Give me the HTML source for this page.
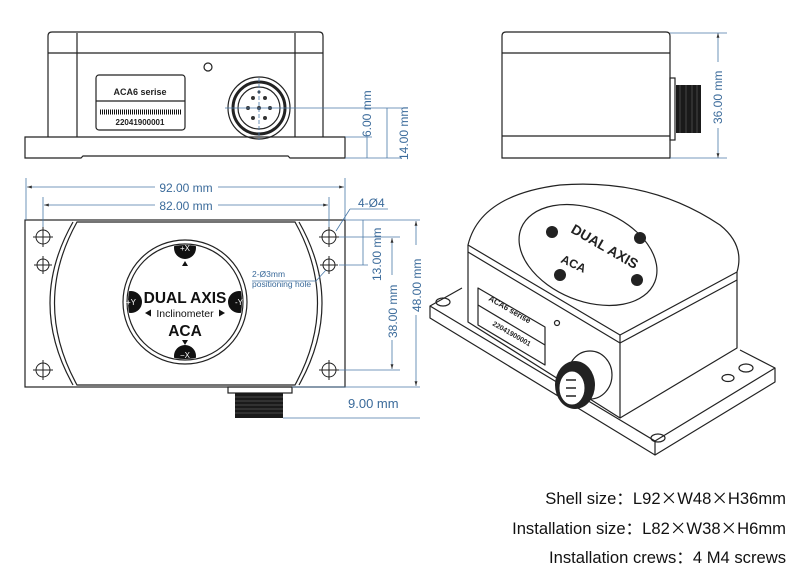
<!DOCTYPE html>
<html><head><meta charset="utf-8"><style>
html,body{margin:0;padding:0;background:#fff;}
svg{display:block;}
.t{font-family:"Liberation Sans",Arial,sans-serif;}
.x{font-family:"Noto Sans CJK SC",sans-serif;}
</style></head><body>
<svg width="800" height="584" viewBox="0 0 800 584" xmlns="http://www.w3.org/2000/svg">
<defs>
<marker id="ar" viewBox="0 0 10 10" refX="10" refY="5" markerWidth="6" markerHeight="6" orient="auto-start-reverse"><path d="M0,2 L10,5 L0,8 z" fill="#333"/></marker>
<clipPath id="cc"><circle cx="185" cy="302" r="57"/></clipPath>
</defs>
<g fill="none" stroke="#222" stroke-width="1.2">
<path d="M48,137 V36 Q48,32 52,32 H319 Q323,32 323,36 V137"/>
<line x1="48" y1="53" x2="323" y2="53"/>
<line x1="77" y1="33" x2="77" y2="137"/>
<line x1="295" y1="33" x2="295" y2="137"/>
<path d="M25,137 H345 V158 H290 L288,156 H83 L81,158 H25 Z"/>
<rect x="96" y="75" width="89" height="55" rx="3"/>
<line x1="96" y1="101" x2="185" y2="101"/>
<circle cx="208" cy="67" r="4"/>
<circle cx="259" cy="108" r="31"/>
<circle cx="259" cy="108" r="26" stroke-width="3"/>
<circle cx="259" cy="108" r="21"/>
</g>
<g fill="#333">
<circle cx="259" cy="108" r="2"/><circle cx="248" cy="108" r="2"/><circle cx="270" cy="108" r="2"/>
<circle cx="253" cy="98" r="2"/><circle cx="265" cy="98" r="2"/><circle cx="253" cy="118" r="2"/><circle cx="265" cy="118" r="2"/><circle cx="259" cy="92" r="1.5"/>
</g>
<line x1="100" y1="112" x2="181" y2="112" stroke="#111" stroke-width="5" stroke-dasharray="1 1"/>
<text x="140" y="95" class="t" font-size="9" font-weight="bold" text-anchor="middle" fill="#222">ACA6 serise</text>
<text x="140" y="125" class="t" font-size="8" font-weight="bold" text-anchor="middle" fill="#222">22041900001</text>
<g stroke="#4a79a8" stroke-width="0.8" fill="none">
<line x1="225" y1="108" x2="402" y2="108"/>
<line x1="259" y1="78" x2="259" y2="140" stroke-dasharray="4 2"/>
<line x1="345" y1="137" x2="372" y2="137"/>
<line x1="345" y1="158" x2="402" y2="158"/>
<line x1="367" y1="137" x2="367" y2="158"/>
<line x1="387" y1="108" x2="387" y2="158"/>
</g>
<text class="t" font-size="12" fill="#3a6a9a" transform="translate(371,137) rotate(-90)">6.00 mm</text>
<text class="t" font-size="12" fill="#3a6a9a" transform="translate(408,160) rotate(-90)">14.00 mm</text>

<g fill="none" stroke="#222" stroke-width="1.2">
<path d="M502,158 V36 Q502,32 506,32 H666 Q670,32 670,36 V158 Z"/>
<line x1="502" y1="53" x2="670" y2="53"/>
<line x1="502" y1="136" x2="670" y2="136"/>
<rect x="670" y="78" width="5" height="62"/>
</g>
<rect x="676" y="85" width="25" height="48" fill="#1a1a1a"/>
<g stroke="#666" stroke-width="0.6"><line x1="680" y1="85" x2="680" y2="133"/><line x1="686" y1="85" x2="686" y2="133"/><line x1="692" y1="85" x2="692" y2="133"/><line x1="697" y1="85" x2="697" y2="133"/></g>
<g stroke="#4a79a8" stroke-width="0.8">
<line x1="670" y1="33" x2="727" y2="33"/><line x1="670" y1="158" x2="727" y2="158"/>
<line x1="718" y1="33" x2="718" y2="62" marker-start="url(#ar)"/>
<line x1="718" y1="128" x2="718" y2="158" marker-end="url(#ar)"/>
</g>
<text class="t" font-size="12" fill="#3a6a9a" transform="translate(722,124) rotate(-90)">36.00 mm</text>

<g fill="none" stroke="#222" stroke-width="1.2">
<rect x="25" y="220" width="320" height="167"/>
<path d="M77,222 H295 Q340,303 295,385 H77 Q32,303 77,222 Z"/>
<path d="M73,222 Q27,303 73,385"/>
<path d="M299,222 Q345,303 299,385"/>
<circle cx="185" cy="302" r="62"/>
<circle cx="185" cy="302" r="58"/>
<rect x="228" y="387" width="64" height="6"/>
</g>
<g fill="none" stroke="#222" stroke-width="1">
<circle cx="43" cy="237" r="7"/><circle cx="43" cy="265" r="6"/><circle cx="43" cy="370" r="7"/>
<circle cx="329" cy="237" r="7"/><circle cx="329" cy="265" r="6"/><circle cx="329" cy="370" r="7"/>
<path d="M33,237H53M43,227V247M34,265H52M43,256V274M33,370H53M43,360V380M319,237H339M329,227V247M320,265H338M329,256V274M319,370H339M329,360V380"/>
</g>
<rect x="235" y="393" width="48" height="25" fill="#1a1a1a"/>
<g stroke="#777" stroke-width="0.6"><path d="M235,397H283M235,401H283M235,405H283M235,409H283M235,413H283"/></g>
<g fill="#111" clip-path="url(#cc)">
<circle cx="185" cy="248" r="11"/>
<circle cx="185" cy="356" r="11"/>
<circle cx="131" cy="302" r="11"/>
<circle cx="239" cy="302" r="11"/>
</g>
<g fill="#111">
<path d="M185,261 l-3,5 h6z"/><path d="M185,345 l-3,-5 h6z"/>
<path d="M145,313 l6,-3.5 v7z"/><path d="M225,313 l-6,-3.5 v7z"/>
</g>
<g class="t" fill="#fff" font-size="8" text-anchor="middle">
<text x="185" y="251">+X</text><text x="185" y="358">−X</text><text x="131" y="305">+Y</text><text x="239" y="305">-Y</text>
</g>
<text x="185" y="303" class="t" font-size="15.5" font-weight="bold" text-anchor="middle" fill="#111">DUAL AXIS</text>
<text x="185" y="317" class="t" font-size="10.5" text-anchor="middle" fill="#111">Inclinometer</text>
<text x="185" y="336" class="t" font-size="15.5" font-weight="bold" text-anchor="middle" fill="#111">ACA</text>
<g stroke="#4a79a8" stroke-width="0.8" fill="none">
<line x1="26" y1="178" x2="26" y2="220"/><line x1="345" y1="178" x2="345" y2="220"/>
<line x1="43" y1="197" x2="43" y2="227"/><line x1="329" y1="197" x2="329" y2="227"/>
<line x1="27" y1="187" x2="155" y2="187" marker-start="url(#ar)"/><line x1="218" y1="187" x2="344" y2="187" marker-end="url(#ar)"/>
<line x1="44" y1="205" x2="155" y2="205" marker-start="url(#ar)"/><line x1="218" y1="205" x2="328" y2="205" marker-end="url(#ar)"/>
<line x1="345" y1="220" x2="420" y2="220"/><line x1="339" y1="237" x2="400" y2="237"/><line x1="339" y1="265" x2="368" y2="265"/><line x1="339" y1="370" x2="400" y2="370"/>
<line x1="292" y1="387" x2="420" y2="387"/><line x1="283" y1="418" x2="420" y2="418"/>
<line x1="363" y1="220" x2="363" y2="265"/>
<line x1="392" y1="238" x2="392" y2="275" marker-start="url(#ar)"/><line x1="392" y1="340" x2="392" y2="369" marker-end="url(#ar)"/>
<line x1="416" y1="221" x2="416" y2="245" marker-start="url(#ar)"/><line x1="416" y1="315" x2="416" y2="386" marker-end="url(#ar)"/>
<path d="M350,209 H388 M350,209 L336,231"/>
<path d="M252,281 H316 L326,270"/>
</g>
<g class="t" fill="#3a6a9a">
<text x="186" y="192" font-size="12" text-anchor="middle">92.00 mm</text>
<text x="186" y="210" font-size="12" text-anchor="middle">82.00 mm</text>
<text x="358" y="207" font-size="12">4-Ø4</text>
<text x="252" y="277" font-size="8.5">2-Ø3mm</text>
<text x="252" y="287" font-size="8.5">positioning hole</text>
<text x="348" y="408" font-size="13">9.00 mm</text>
<text font-size="12" transform="translate(381,281) rotate(-90)">13.00 mm</text>
<text font-size="12" transform="translate(397,338) rotate(-90)">38.00 mm</text>
<text font-size="12" transform="translate(421,312) rotate(-90)">48.00 mm</text>
</g>

<g fill="none" stroke="#222" stroke-width="1.2" stroke-linejoin="round">
<path d="M462,288 L430,306 L430,318 L655,455 L775,382 L775,368 L740,350"/>
<path d="M430,306 L655,441 L775,368"/>
<line x1="655" y1="441" x2="655" y2="455"/>
<path d="M468,245 Q480,195 560,185 Q650,178 720,225 Q745,245 737,272 L620,335 L468,245 Z"/>
<path d="M468,252 L620,343 L737,280"/>
<path d="M468,245 V322 L620,418 L620,335"/>
<path d="M620,418 L737,348 V272"/>
<ellipse cx="588" cy="255" rx="72" ry="46" transform="rotate(22 588 255)"/>
<ellipse cx="443" cy="302" rx="7" ry="4"/>
<ellipse cx="746" cy="368" rx="7" ry="4"/>
<ellipse cx="658" cy="438" rx="7" ry="4"/>
<ellipse cx="728" cy="378" rx="6" ry="3.5"/>
<path d="M478,288 L545,327 L545,365 L478,325 Z"/>
<path d="M478,305 L545,345"/>
<circle cx="557" cy="323" r="2.5"/>
<ellipse cx="590" cy="375" rx="22" ry="24"/>
</g>
<ellipse cx="575" cy="385" rx="20" ry="24" fill="#222"/>
<ellipse cx="572" cy="388" rx="13" ry="17" fill="#fff" stroke="#222"/>
<g stroke="#222" stroke-width="1.5"><path d="M566,380h10M566,388h10M566,396h10"/></g>
<g class="t" fill="#222" font-weight="bold">
<text font-size="14" transform="translate(570,232) rotate(30)">DUAL AXIS</text>
<text font-size="12" transform="translate(560,262) rotate(25)">ACA</text>
<text font-size="8" transform="translate(488,300) rotate(30)">ACA6 serise</text>
<text font-size="7" transform="translate(492,325) rotate(30)">22041900001</text>
</g>
<g fill="#222"><circle cx="552" cy="232" r="6"/><circle cx="640" cy="238" r="6"/><circle cx="560" cy="275" r="6"/><circle cx="637" cy="280" r="6"/></g>

<g class="t" font-size="16.6" fill="#111" text-anchor="end">
<text x="786" y="504">Shell size：L92<tspan class="x">×</tspan>W48<tspan class="x">×</tspan>H36mm</text>
<text x="786" y="534">Installation size：L82<tspan class="x">×</tspan>W38<tspan class="x">×</tspan>H6mm</text>
<text x="786" y="563">Installation crews：4 M4 screws</text>
</g>
</svg>
</body></html>
